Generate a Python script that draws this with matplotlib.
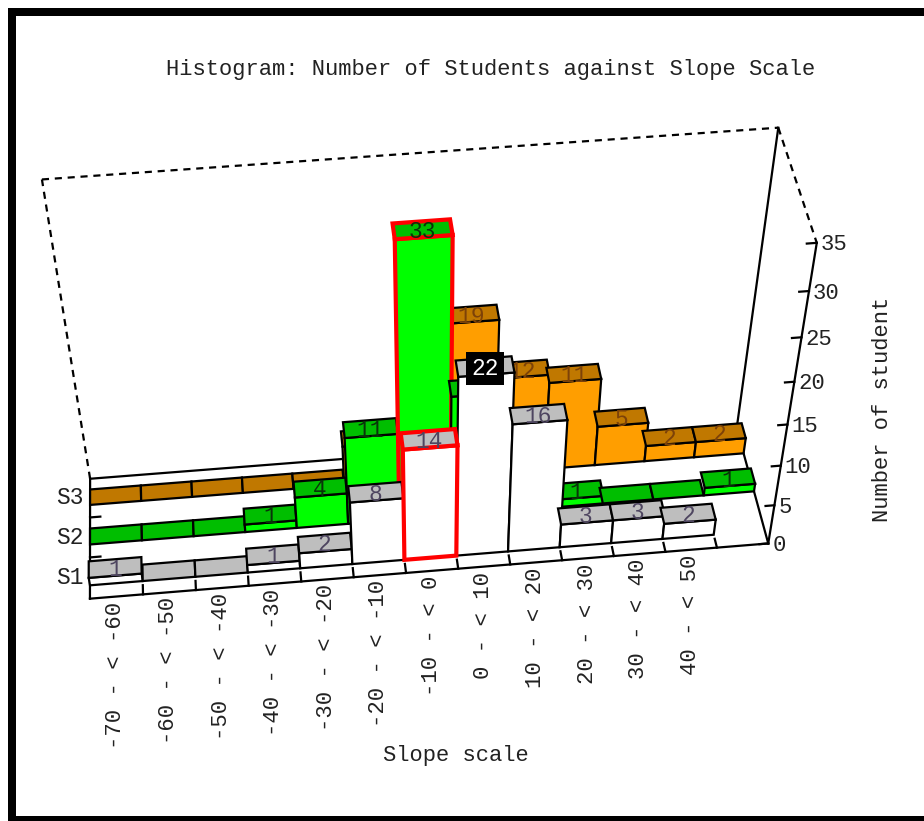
import numpy as np
import matplotlib
matplotlib.use("Agg")
import matplotlib.pyplot as plt
from matplotlib.patches import Polygon, Rectangle

# ---------- data ----------
categories = ["-70 - < -60", "-60 - < -50", "-50 - < -40", "-40 - < -30",
              "-30 - < -20", "-20 - < -10", "-10 - < 0", "0 - < 10",
              "10 - < 20", "20 - < 30", "30 - < 40", "40 - < 50"]
series_names = ["S1", "S2", "S3"]
s1_values = [1, 0, 0, 1, 2, 8, 14, 22, 16, 3, 3, 2]
s2_values = [0, 0, 0, 1, 4, 11, 33, 15, 4, 1, 0, 0, 1]
s3_values = [0, 0, 0, 0, 0, 5, 6, 19, 12, 11, 5, 2, 2]
z_ticks = [0, 5, 10, 15, 20, 25, 30, 35]

title = "Histogram: Number of Students against Slope Scale"
xlabel = "Slope scale"
zlabel = "Number of student"

# ---------- styles ----------
FONT = "Liberation Mono"
TXT = "#222222"
front_colors = ["#FFFFFF", "#00FF00", "#FF9E00"]
top_colors = ["#BEBEBE", "#00BE00", "#C07800"]
label_colors = ["#4e4560", "#0a330a", "#7d4208"]
occluded_labels = {(2, 5), (2, 6), (1, 7), (1, 8)}  # (row, cell) labels hidden by nearer bars
N_CELLS = 13
N_ROWS = 3
Z_MAX = 35

# ---------- perspective scale: (cell, row, value) -> figure pixels ----------
anchors_3d = np.array([(0, 0, 0), (N_CELLS, 0, 0), (0, N_ROWS, 0), (N_CELLS, N_ROWS, 0),
                       (0, N_ROWS, Z_MAX), (N_CELLS, N_ROWS, Z_MAX), (N_CELLS, 0, Z_MAX)], float)
anchors_px = np.array([(90, 600), (768, 542), (90, 477), (737, 430),
                       (42, 180), (778, 127), (817, 243)], float)


def fit_camera(p3, p2):
    rows = []
    for (x, y, z), (u, v) in zip(p3, p2):
        rows.append([x, y, z, 1, 0, 0, 0, 0, -u * x, -u * y, -u * z, -u])
        rows.append([0, 0, 0, 0, x, y, z, 1, -v * x, -v * y, -v * z, -v])
    return np.linalg.svd(np.array(rows))[2][-1].reshape(3, 4)


CAM = fit_camera(anchors_3d, anchors_px)


def proj(x, y, z):
    h = CAM @ np.array([x, y, z, 1.0])
    return h[0] / h[2], h[1] / h[2]


# ---------- figure ----------
fig = plt.figure(figsize=(9.24, 8.21), dpi=100)
ax = fig.add_axes([0, 0, 1, 1])
ax.set_xlim(0, 924)
ax.set_ylim(821, 0)
ax.axis("off")

# frame of the picture (no right edge in the reference)
for xy, w, h in [((8, 8), 916, 8), ((8, 8), 8, 813), ((8, 816), 916, 5)]:
    ax.add_patch(Rectangle(xy, w, h, fc="black", ec="none", zorder=1))


def line(a, b, ls="-", lw=1.6, color="black", z=2):
    pa, pb = proj(*a), proj(*b)
    ax.plot([pa[0], pb[0]], [pa[1], pb[1]], ls=ls, lw=lw, color=color, zorder=z,
            solid_capstyle="projecting")


DASH = (0, (3.2, 2.6))
n, m, t = N_CELLS, N_ROWS, Z_MAX
# back box
line((0, m, 0), (0, m, t), ls=DASH)
line((0, m, t), (n, m, t), ls=DASH)
line((n, m, t), (n, 0, t), ls=DASH)
line((n, m, 0), (n, m, t))
# floor
line((0, 0, 0), (n, 0, 0))
line((0, 0, 0), (0, m, 0))
line((0, m, 0), (n, m, 0))
line((n, 0, 0), (n, m, 0))
# z axis
line((n, 0, 0), (n, 0, t))
for v in z_ticks:
    line((n, 0, v), (n - 0.17, 0, v))
    px, py = proj(n, 0, v)
    ax.text(px + 4, py + 2, str(v), family=FONT, fontsize=16, color=TXT,
            ha="left", va="center", zorder=20)
# x ticks on the floor
for i in range(1, n):
    line((i, 0, 0), (i, 0.22, 0))
# row ticks and row names
for j, name in enumerate(series_names):
    if j > 0:
        line((0, j, 0), (0.2, j, 0))
    px, py = proj(0, j + 0.5, 0)
    ax.text(px - 6, py + 0, name, family=FONT, fontsize=16.5, color=TXT,
            ha="right", va="center", zorder=20)

# bars, back row first
ROW_FRONT, ROW_BACK = 0.32, 0.72
all_series = [s1_values, s2_values, s3_values]
z = 3
for j in reversed(range(N_ROWS)):
    for i, v in enumerate(all_series[j]):
        y0, y1 = j + ROW_FRONT, j + ROW_BACK
        hot = (i == 6 and j in (0, 1))
        edge = "#FF0000" if hot else "black"
        lw = 3.0 if hot else 1.6
        z += 1
        zb = z + (40 if (hot and j == 0) else 0)
        if v > 0:
            face = [proj(i, y0, 0), proj(i + 1, y0, 0), proj(i + 1, y0, v), proj(i, y0, v)]
            ax.add_patch(Polygon(face, closed=True, fc=front_colors[j], ec=edge, lw=lw,
                                 zorder=zb, joinstyle="miter"))
        top = [proj(i, y0, v), proj(i + 1, y0, v), proj(i + 1, y1, v), proj(i, y1, v)]
        ax.add_patch(Polygon(top, closed=True, fc=top_colors[j], ec=edge, lw=lw,
                             zorder=zb + 0.5, joinstyle="miter"))
        if v > 0 and (j, i) not in occluded_labels:
            cx, cy = proj(i + 0.5, (y0 + y1) / 2, v)
            white = (j == 0 and i == 7)
            ax.text(cx, cy + 2, str(v), family=FONT, fontsize=16.5,
                    color="white" if white else label_colors[j],
                    ha="center", va="center", zorder=zb + 0.6,
                    bbox=dict(fc="black", ec="none", pad=3.5) if white else None)

# category labels
for i, cat in enumerate(categories):
    px, py = proj(i + 0.5, 0, 0)
    ax.text(px - 1, py + 5, cat, family=FONT, fontsize=16, color=TXT, rotation=90,
            ha="center", va="top", zorder=20)

ax.text(491, 69, title, family=FONT, fontsize=15.9, color=TXT, ha="center", va="center")
ax.text(456, 755, xlabel, family=FONT, fontsize=15.9, color=TXT, ha="center", va="center")
ax.text(882, 409, zlabel, family=FONT, fontsize=15.9, color=TXT, rotation=90,
        ha="center", va="center")

fig.savefig("out.png", dpi=100)
